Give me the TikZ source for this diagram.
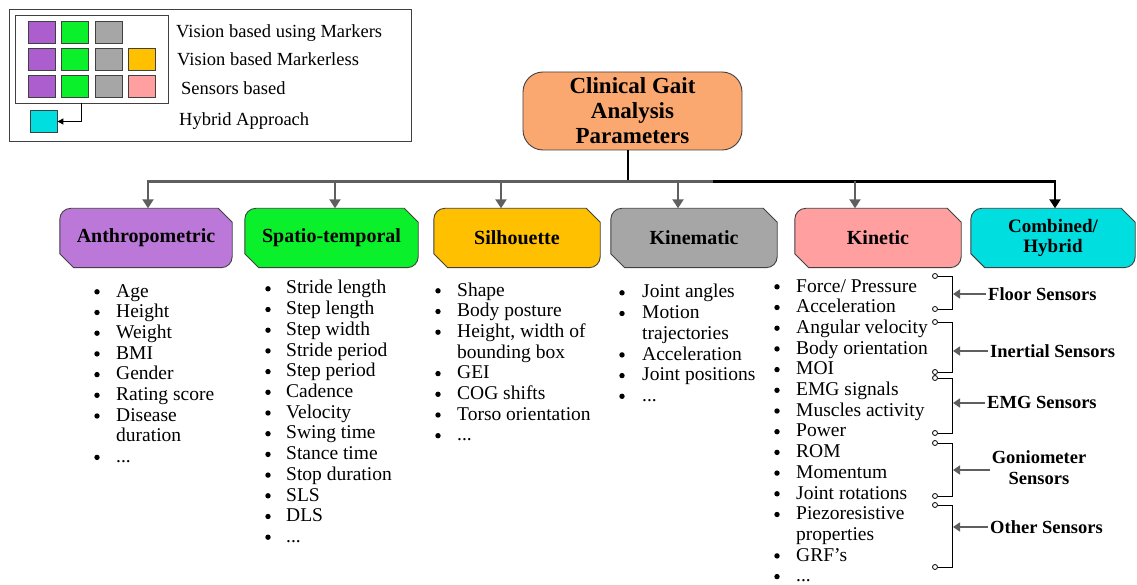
\documentclass[tikz,border=0pt]{standalone}
\usepackage{fontspec}
\setmainfont{Liberation Serif}
\usetikzlibrary{arrows.meta,backgrounds}
\definecolor{cPur}{HTML}{BC78D8}
\definecolor{cPurL}{HTML}{AC5ECF}
\definecolor{cGrn}{HTML}{0AF02A}
\definecolor{cGld}{HTML}{FFC000}
\definecolor{cGry}{HTML}{A6A6A6}
\definecolor{cPnk}{HTML}{FF9FA0}
\definecolor{cCyn}{HTML}{00DEE0}
\definecolor{cOrg}{HTML}{FBA870}
\definecolor{cLine}{HTML}{5F5F5F}
\definecolor{cEdge}{HTML}{404040}
\newcommand\mydots{...}
\tikzset{
  catbox/.style={inner sep=0pt, minimum height=59pt, align=center,
    font=\fontsize{20}{20}\selectfont\bfseries},
  sq/.style={draw=cEdge, line width=0.8pt, inner sep=0pt, minimum width=27pt, minimum height=22pt},
  legtxt/.style={anchor=base west, inner sep=0pt, font=\fontsize{18.5}{20}\selectfont},
  litem/.style={anchor=base west, inner sep=0pt, font=\fontsize{19.5}{20}\selectfont},
  senslbl/.style={anchor=base west, inner sep=0pt, font=\fontsize{18.5}{21}\selectfont\bfseries},
  garrow/.style={draw=cLine, line width=2.6pt, -{Triangle[width=11pt,length=9pt]}},
  barrow/.style={draw=black, line width=2.6pt, -{Triangle[width=11pt,length=9pt]}},
  sarrow/.style={draw=cLine, line width=2.2pt, -{Triangle[width=9pt,length=7pt]}},
  brk/.style={draw=black, line width=1pt},
  pin/.style={draw=black, fill=white, line width=0.8pt},
}
\newcommand\catshape[2]{%
  \path[draw=cEdge, line width=0.9pt, fill=#2]
    ([yshift=-11pt]#1.north west) arc[start angle=180, end angle=90, radius=11pt]
    -- ([xshift=-14pt]#1.north east) -- ([yshift=-14pt]#1.north east)
    -- ([yshift=11pt]#1.south east) arc[start angle=0, end angle=-90, radius=11pt]
    -- ([xshift=14pt]#1.south west) -- ([yshift=14pt]#1.south west) -- cycle;}
\newcommand\blist[5]{%
  \foreach \b/\t [count=\i from 0] in {#4} {%
    \node[litem] (#5-\i) at (#2, #3+20.7*\i) {\t};
    \ifnum\b=1 \fill (#1, #3+20.7*\i-5.2) circle (2.7pt);\fi
  }}
\newcommand\bracket[4]{% name, top, bottom, arrow y
  \coordinate (#1t) at (935,#2);
  \coordinate (#1b) at (935,#3);
  \coordinate (#1a) at (953,#4);
  \draw[brk] ([xshift=2.5pt]#1t) -- (952,#2) -- (952,#3) -- ([xshift=2.5pt]#1b);
  \draw[pin] (#1t) circle (2.5pt);
  \draw[pin] (#1b) circle (2.5pt);}
\begin{document}
\begin{tikzpicture}[x=1pt,y=-1pt]
\useasboundingbox (0,0) rectangle (1137,585);

% ---------- legend ----------
\draw[draw=cEdge, line width=0.8pt] (9,9) rectangle (411,141);
\node[draw=cEdge, line width=0.8pt, inner sep=0pt, minimum width=153pt, minimum height=88pt] (legin) at (91.5,59) {};
\node[sq, fill=cPurL] (s11) at (41.5,32.5) {};
\node[sq, fill=cGrn]  (s12) at (74.5,32.5) {};
\node[sq, fill=cGry]  (s13) at (108.5,32.5) {};
\node[sq, fill=cPurL] (s21) at (41.5,59) {};
\node[sq, fill=cGrn]  (s22) at (74.5,59) {};
\node[sq, fill=cGry]  (s23) at (108.5,59) {};
\node[sq, fill=cGld]  (s24) at (141.5,59) {};
\node[sq, fill=cPurL] (s31) at (41.5,86) {};
\node[sq, fill=cGrn]  (s32) at (74.5,86) {};
\node[sq, fill=cGry]  (s33) at (108.5,86) {};
\node[sq, fill=cPnk]  (s34) at (141.5,86) {};
\node[sq, fill=cCyn]  (legcy) at (43.5,121.5) {};
\draw[draw=black, line width=0.9pt, -{Triangle[width=6pt,length=6pt]}] ([xshift=-10.5pt]legin.south) |- (legcy.east);
\node[legtxt] (lg1) at (176,37.5) {Vision based using Markers};
\node[legtxt] (lg2) at (177,66) {Vision based Markerless};
\node[legtxt] (lg3) at (181,95) {Sensors based};
\node[legtxt] (lg4) at (179,126) {Hybrid Approach};

% ---------- root ----------
\node[draw=cEdge, line width=0.9pt, fill=cOrg, rounded corners=20pt, minimum width=219pt,
  minimum height=78pt, align=center, inner sep=0pt,
  font=\fontsize{23}{25}\selectfont\bfseries] (root) at (632.5,111) {Clinical Gait\\Analysis\\Parameters};

% ---------- categories ----------
\node[catbox, minimum width=172pt] (anth) at (146,238) {Anthropometric};
\node[catbox, minimum width=173pt] (spat) at (331.5,238) {Spatio-temporal};
\node[catbox, minimum width=166pt] (silh) at (517,238) {Silhouette};
\node[catbox, minimum width=166pt] (kinm) at (694,238) {Kinematic};
\node[catbox, minimum width=166pt] (kint) at (878,238) {Kinetic};
\node[catbox, minimum width=164pt, font=\fontsize{19}{20}\selectfont\bfseries] (hybr) at (1053,238) {Combined/\\Hybrid};
\begin{scope}[on background layer]
\catshape{anth}{cPur}
\catshape{spat}{cGrn}
\catshape{silh}{cGld}
\catshape{kinm}{cGry}
\catshape{kint}{cPnk}
\catshape{hybr}{cCyn}
\end{scope}

% ---------- bus connectors ----------
\coordinate (bus) at (628,181.5);
\coordinate (busM) at (713,181.5);
\coordinate (a2) at (335,181.5);
\coordinate (a3) at (501,181.5);
\coordinate (a4) at (678,181.5);
\coordinate (a5) at (855,181.5);
\draw[draw=black, line width=2.6pt] (root.south -| bus) -- (bus);
\draw[garrow] (busM) -| ([xshift=2pt]anth.north);
\draw[garrow] (a2) -- (a2 |- spat.north);
\draw[garrow] (a3) -- (a3 |- silh.north);
\draw[garrow] (a4) -- (a4 |- kinm.north);
\draw[barrow] (busM) -| ([xshift=2pt]hybr.north);
\draw[garrow] (a5) -- (a5 |- kint.north);

% ---------- lists ----------
\blist{97}{116}{297}{1/Age,1/Height,1/Weight,1/BMI,1/Gender,1/Rating score,1/Disease,0/duration,1/\mydots}{la}
\blist{268}{286}{294}{1/Stride length,1/Step length,1/Step width,1/Stride period,1/Step period,1/Cadence,1/Velocity,1/Swing time,1/Stance time,1/Stop duration,1/SLS,1/DLS,1/\mydots}{ls}
\blist{438}{457}{296}{1/Shape,1/Body posture,1/{Height, width of},0/bounding box,1/GEI,1/COG shifts,1/Torso orientation,1/\mydots}{lh}
\blist{622}{642}{298}{1/Joint angles,1/Motion,0/trajectories,1/Acceleration,1/Joint positions,1/\mydots}{lk}
\blist{777}{796}{292}{1/{Force/ Pressure},1/Acceleration,1/Angular velocity,1/Body orientation,1/MOI,1/EMG signals,1/Muscles activity,1/Power,1/ROM,1/Momentum,1/Joint rotations,1/Piezoresistive,0/properties,1/GRF’s,1/\mydots}{lt}

% ---------- sensor brackets ----------
\bracket{fl}{276}{309}{294}
\bracket{in}{322}{372}{351}
\bracket{em}{378}{433}{403}
\bracket{go}{443}{496}{470}
\bracket{ot}{505}{567}{527}
\node[senslbl] (sfl) at (988,300) {Floor Sensors};
\node[senslbl] (sin) at (990,357.5) {Inertial Sensors};
\node[senslbl] (sem) at (987,408.5) {EMG Sensors};
\node[inner sep=0pt, align=center, font=\fontsize{18.5}{21}\selectfont\bfseries] (sgo) at (1039,468) {Goniometer\\Sensors};
\node[senslbl] (sot) at (990,533) {Other Sensors};
\draw[sarrow] (sfl.west |- fla) ++(-2pt,0) -- (fla);
\draw[sarrow] (sin.west |- ina) ++(-2pt,0) -- (ina);
\draw[sarrow] (sem.west |- ema) ++(-2pt,0) -- (ema);
\draw[sarrow] (sgo.west |- goa) ++(-2pt,0) -- (goa);
\draw[sarrow] (sot.west |- ota) ++(-2pt,0) -- (ota);
\end{tikzpicture}
\end{document}
